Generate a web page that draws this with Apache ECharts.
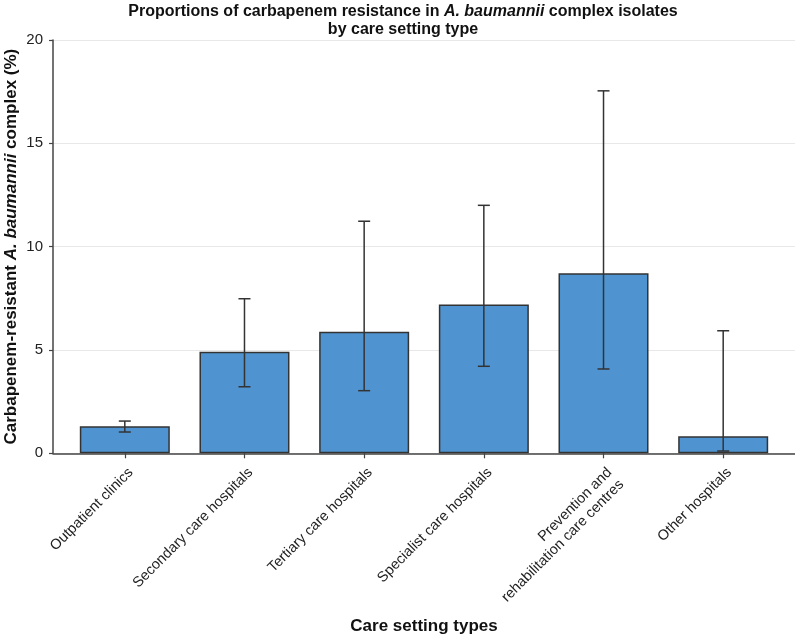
<!DOCTYPE html>
<html>
<head>
<meta charset="utf-8">
<script src="https://cdn.jsdelivr.net/npm/echarts@6/dist/echarts.min.js"></script>
<style>html,body{margin:0;padding:0;background:#fff;}#c{width:795px;height:635px;}</style>
</head>
<body>
<div id="c"></div>
<script>
const categories = ['Outpatient clinics', 'Secondary care hospitals', 'Tertiary care hospitals', 'Specialist care hospitals', 'Prevention and\nrehabilitation care centres', 'Other hospitals'];
const values = [1.31, 4.92, 5.88, 7.2, 8.71, 0.83];
const ciLow = [1.03, 3.22, 3.03, 4.21, 4.08, 0.11];
const ciHigh = [1.56, 7.48, 11.23, 12.0, 17.54, 5.93];
const yTicks = [0, 5, 10, 15, 20];

const positions = categories.map((c, i) => i);
const barData = values.map((v, i) => [i, v]);
const errData = values.map((v, i) => [i, ciLow[i], ciHigh[i]]);

const chart = echarts.init(document.getElementById('c'), null, {renderer: 'canvas'});
const font = '"Liberation Sans", Arial, sans-serif';
chart.setOption({
  animation: false,
  backgroundColor: '#fff',
  title: {
    text: '{b|Proportions of carbapenem resistance in }{bi|A. baumannii}{b| complex isolates}\n{b|by care setting type}',
    left: 398, top: -2, textAlign: 'center',
    textStyle: {
      fontFamily: font, fontSize: 16, fontWeight: 'bold', color: '#111', lineHeight: 18,
      rich: {
        b: {fontFamily: font, fontSize: 16, fontWeight: 'bold', color: '#111', lineHeight: 18},
        bi: {fontFamily: font, fontSize: 16, fontWeight: 'bold', fontStyle: 'italic', color: '#111', lineHeight: 18}
      }
    }
  },
  grid: {left: 53, right: 0, top: 40, bottom: 181.7, containLabel: false, outerBoundsMode: 'none'},
  xAxis: {
    type: 'value', min: -0.6, max: 5.6,
    splitLine: {show: false},
    axisLine: {show: true, onZero: false, lineStyle: {color: '#444', width: 1.5}},
    axisTick: {show: true, length: 5, lineStyle: {color: '#444', width: 1.2}, customValues: positions},
    axisLabel: {
      customValues: positions, rotate: 45, margin: 11, verticalAlign: 'top',
      formatter: (v) => categories[Math.round(v)] || '',
      fontFamily: font, fontSize: 14.5, color: '#222', lineHeight: 17
    },
    name: 'Care setting types', nameLocation: 'middle', nameGap: 165, nameMoveOverlap: false,
    nameTextStyle: {fontFamily: font, fontSize: 17, fontWeight: 'bold', color: '#111'}
  },
  yAxis: {
    type: 'value', min: 0, max: 20, interval: 5,
    axisLine: {show: true, onZero: false, lineStyle: {color: '#444', width: 1.5}},
    axisTick: {show: true, length: 4, lineStyle: {color: '#444', width: 1.2}},
    splitLine: {show: true, lineStyle: {color: '#e8e8e8', width: 1}},
    axisLabel: {
      margin: 10, fontFamily: font, fontSize: 15, color: '#222',
      formatter: (v) => yTicks.includes(v) ? String(v) : ''
    },
    name: '{b|Carbapenem-resistant }{bi|A. baumannii}{b| complex (%)}',
    nameLocation: 'middle', nameGap: 33, nameMoveOverlap: false,
    nameTextStyle: {
      fontFamily: font, fontSize: 17, fontWeight: 'bold', color: '#111',
      rich: {
        b: {fontFamily: font, fontSize: 17, fontWeight: 'bold', color: '#111'},
        bi: {fontFamily: font, fontSize: 17, fontWeight: 'bold', fontStyle: 'italic', color: '#111'}
      }
    }
  },
  series: [
    {
      type: 'bar', data: barData, barWidth: 90,
      itemStyle: {color: '#4f94d0', borderColor: '#333', borderWidth: 1.5}
    },
    {
      type: 'custom', data: errData,
      renderItem: function (params, api) {
        const x = api.value(0);
        const lo = api.coord([x, api.value(1)]);
        const hi = api.coord([x, api.value(2)]);
        const hw = 6;
        const st = {stroke: '#333', lineWidth: 1.5};
        return {
          type: 'group',
          children: [
            {type: 'line', shape: {x1: lo[0], y1: lo[1], x2: hi[0], y2: hi[1]}, style: st},
            {type: 'line', shape: {x1: lo[0] - hw, y1: lo[1], x2: lo[0] + hw, y2: lo[1]}, style: st},
            {type: 'line', shape: {x1: hi[0] - hw, y1: hi[1], x2: hi[0] + hw, y2: hi[1]}, style: st}
          ]
        };
      },
      z: 10
    }
  ]
});
</script>
</body>
</html>
